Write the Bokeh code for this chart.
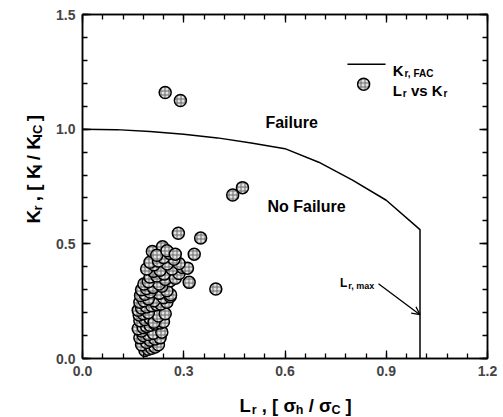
import math
from bokeh.plotting import figure
from bokeh.models import (Range1d, LinearAxis, FixedTicker, NumeralTickFormatter, CustomJSTickFormatter,
                          Label, Arrow, OpenHead, ColumnDataSource)
from bokeh.layouts import row, column
from bokeh.embed import file_html
from bokeh.resources import INLINE

# ---------------- data ----------------
fac_lr = [0.0, 0.1, 0.2, 0.3, 0.4, 0.5, 0.6, 0.7, 0.8, 0.9, 1.0, 1.0]
fac_kr = [1.0, 0.998, 0.99, 0.978, 0.962, 0.94, 0.915, 0.856, 0.778, 0.69, 0.562, 0.0]

pts_lr = [0.185, 0.195, 0.205, 0.215, 0.225, 0.175, 0.19, 0.2, 0.215, 0.23, 0.17, 0.18, 0.195, 0.21, 0.235, 0.175,
          0.165, 0.18, 0.19, 0.2, 0.215, 0.23, 0.24, 0.17, 0.185, 0.2, 0.212, 0.225, 0.168, 0.18, 0.195, 0.245,
          0.165, 0.175, 0.19, 0.205, 0.22, 0.232, 0.25, 0.17, 0.182, 0.212, 0.195, 0.24, 0.26, 0.172, 0.185, 0.227,
          0.261, 0.2, 0.25, 0.175,
          0.19, 0.21, 0.235, 0.182, 0.227, 0.26, 0.195, 0.245, 0.275, 0.2, 0.22, 0.242, 0.286, 0.21, 0.23, 0.265,
          0.296, 0.311, 0.19,
          0.212, 0.251, 0.286, 0.2, 0.225, 0.271, 0.24, 0.207, 0.259, 0.237, 0.22, 0.25, 0.275,
          0.284, 0.35, 0.331, 0.316, 0.395, 0.445, 0.474, 0.245, 0.29]
pts_kr = [0.035, 0.04, 0.045, 0.05, 0.06, 0.06, 0.07, 0.08, 0.085, 0.09, 0.09, 0.1, 0.105, 0.11, 0.115, 0.12,
          0.13, 0.135, 0.14, 0.145, 0.15, 0.155, 0.16, 0.165, 0.17, 0.175, 0.158, 0.185, 0.19, 0.195, 0.2, 0.195,
          0.21, 0.22, 0.225, 0.23, 0.235, 0.238, 0.245, 0.245, 0.252, 0.252, 0.26, 0.265, 0.27, 0.275, 0.28, 0.284,
          0.278, 0.29, 0.295, 0.3,
          0.305, 0.31, 0.315, 0.325, 0.325, 0.339, 0.335, 0.345, 0.35, 0.355, 0.36, 0.368, 0.371, 0.38, 0.385, 0.39,
          0.397, 0.394, 0.39,
          0.409, 0.412, 0.414, 0.42, 0.425, 0.433, 0.44, 0.467, 0.458, 0.487, 0.45, 0.47, 0.455,
          0.546, 0.525, 0.455, 0.332, 0.303, 0.713, 0.745, 1.16, 1.125]

x_ticks = [0.0, 0.3, 0.6, 0.9, 1.2]
y_ticks = [0.0, 0.5, 1.0, 1.5]

FONT = "Liberation Sans"

# ---------------- main figure ----------------
LW = 50            # width of the left title strip
PW, PH = 448, 385
p = figure(width=PW, height=PH, output_backend="svg", toolbar_location=None, title=None,
           x_range=Range1d(0, 1.2), y_range=Range1d(0, 1.5),
           min_border_left=82 - LW, min_border_right=11, min_border_top=14, min_border_bottom=27,
           x_axis_location=None, y_axis_location=None)
p.grid.visible = False
p.outline_line_color = "black"
p.outline_line_width = 1.5

x_minor = [round(i * 0.06, 2) for i in range(21)]
y_minor = [round(i * 0.1, 2) for i in range(16)]

def make_axis(kind, show):
    ax = LinearAxis()
    if kind == "x":
        ax.ticker = FixedTicker(ticks=x_ticks, minor_ticks=x_minor)
    else:
        ax.ticker = FixedTicker(ticks=y_ticks, minor_ticks=y_minor)
    ax.axis_line_width = 1.5
    ax.major_tick_in = 8
    ax.major_tick_out = 0
    ax.minor_tick_in = 5
    ax.minor_tick_out = 0
    ax.major_tick_line_width = 1.3
    ax.minor_tick_line_width = 1.3
    ax.major_label_text_font = FONT
    ax.major_label_text_font_style = "bold"
    ax.major_label_text_font_size = "14px"
    if show:
        ax.formatter = NumeralTickFormatter(format="0.0")
        ax.major_label_standoff = 7
    else:
        ax.formatter = CustomJSTickFormatter(code="return ''")
        ax.major_label_standoff = 0
    return ax

p.add_layout(make_axis("x", True), "below")
p.add_layout(make_axis("y", True), "left")
p.add_layout(make_axis("x", False), "above")
p.add_layout(make_axis("y", False), "right")

# FAC curve
p.line(fac_lr, fac_kr, line_color="black", line_width=1.5)

# data points
src = ColumnDataSource(dict(x=pts_lr, y=pts_kr))
marker_style = dict(size=12, fill_color="#e2e2e2", line_color="black", line_width=1.5,
                    hatch_pattern="+", hatch_color="#6a6a6a", hatch_scale=4, hatch_weight=1)
p.scatter("x", "y", source=src, **marker_style)

# ---------------- text helpers ----------------
WID = {'L': .611, 'K': .722, 'r': .389, ',': .278, ' ': .278, '[': .333, ']': .333, '/': .278,
       'σ': .62, 'h': .611, 'C': .722, 'I': .278, 'v': .556, 's': .556, 'F': .611, 'A': .722,
       'm': .889, 'a': .556, 'x': .556, 'i': .278, 'l': .278, 'u': .611, 'e': .556, 'N': .722, 'o': .611}

def tw(s, size):
    return sum(WID.get(c, 0.6) for c in s) * size

def rich(fig, x, y, parts, angle=0.0, xs=1.0, ys=1.0):
    off = 0.0
    for txt, size, dy in parts:
        lead = len(txt) - len(txt.lstrip(" "))
        off += tw(" " * lead, size)
        t = txt.lstrip(" ")
        if dy:
            off += 1.0
        if angle == 0:
            lx, ly = x + off / xs, y - dy / ys
        else:
            lx, ly = x + dy / xs, y + off / ys
        if t.strip():
            fig.add_layout(Label(x=lx, y=ly, text=t, angle=angle, text_font=FONT,
                                 text_font_style="bold", text_font_size=f"{size}px",
                                 text_align="left", text_baseline="alphabetic", text_color="black"))
        off += tw(t, size)

XS = 405 / 1.2   # px per data unit in main frame
YS = 344 / 1.5

# region labels
rich(p, 0.542, 1.030, [("Failure", 16, 0)], xs=XS, ys=YS)
rich(p, 0.548, 0.661, [("No Failure", 16, 0)], xs=XS, ys=YS)

# legend (drawn manually for subscripts)
p.line([0.785, 0.898], [1.283, 1.283], line_color="black", line_width=1.5)
p.scatter([0.833], [1.196], **marker_style)
rich(p, 0.919, 1.257, [("K", 15, 0), ("r, FAC", 10, 3)], xs=XS, ys=YS)
rich(p, 0.919, 1.170, [("L", 15, 0), ("r", 10, 3), (" vs K", 15, 0), ("r", 10, 3)], xs=XS, ys=YS)

# L_r,max annotation
rich(p, 0.763, 0.33, [("L", 12, 0), ("r, max", 9, 3)], xs=XS, ys=YS)
p.add_layout(Arrow(end=OpenHead(size=8, line_width=1.3, line_color="black"),
                   x_start=0.877, y_start=0.326, x_end=1.0, y_end=0.191,
                   line_color="black", line_width=1.3))

# ---------------- axis title strips (pixel coordinates) ----------------
def strip(w, h):
    f = figure(width=w, height=h, output_backend="svg", toolbar_location=None, title=None,
               x_range=Range1d(0, w), y_range=Range1d(0, h),
               min_border=0, x_axis_location=None, y_axis_location=None)
    f.grid.visible = False
    f.outline_line_color = None
    return f

fy = strip(LW, PH)
rich(fy, 33, PH - 234, [("K", 19, 0), ("r", 13, 4), (" , [ K", 19, 0), ("I", 13, 4),
                        (" / K", 19, 0), ("IC", 13, 4), (" ]", 19, 0)], angle=math.pi / 2)

FXH = 32
fx = strip(LW + PW, FXH)
rich(fx, 239, FXH - 20, [("L", 18.5, 0), ("r", 12.5, 4), (" , [ σ", 18.5, 0), ("h", 12.5, 4),
                         (" / σ", 18.5, 0), ("C", 12.5, 4), (" ]", 18.5, 0)])

layout = column(row(fy, p, spacing=0), fx, spacing=0)
open("out.html", "w").write(file_html(layout, INLINE))
